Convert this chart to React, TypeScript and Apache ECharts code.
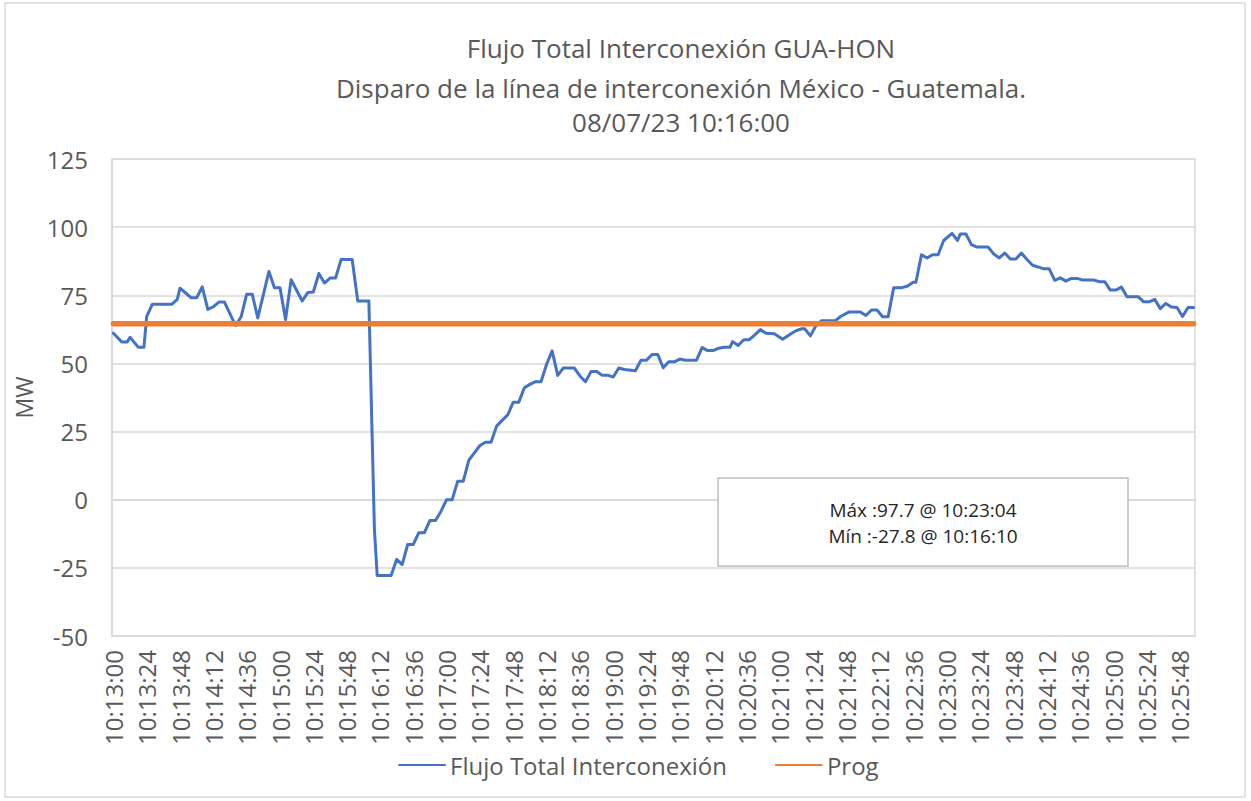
import React, { useEffect, useRef } from "react";
import * as echarts from "echarts";

const titleLines = [
  "Flujo Total Interconexión GUA-HON",
  "Disparo de la línea de interconexión México - Guatemala.",
  "08/07/23 10:16:00",
];

const seriesNames = ["Flujo Total Interconexión", "Prog"];
const yAxisName = "MW";
const yMin = -50;
const yMax = 125;
const yStep = 25;

// category axis: one category every 2 s, 10:13:00 .. 10:25:58
const startSeconds = 10 * 3600 + 13 * 60;
const categoryCount = 390;
const categoryStep = 2;
const labelEvery = 12;

const fmt = (s: number) => {
  const h = Math.floor(s / 3600);
  const m = Math.floor((s % 3600) / 60);
  const sec = s % 60;
  const p = (n: number) => String(n).padStart(2, "0");
  return `${p(h)}:${p(m)}:${p(sec)}`;
};
const categories: string[] = [];
for (let i = 0; i < categoryCount; i++) categories.push(fmt(startSeconds + i * categoryStep));

// Flujo Total Interconexión: vertices
const flowTimes = [
  "10:13:00", "10:13:06", "10:13:10", "10:13:12", "10:13:18", "10:13:22", "10:13:24", "10:13:28",
  "10:13:42", "10:13:46", "10:13:48", "10:13:56", "10:14:00", "10:14:04", "10:14:08", "10:14:12",
  "10:14:16", "10:14:20", "10:14:28", "10:14:32", "10:14:36", "10:14:40", "10:14:44", "10:14:52",
  "10:14:56", "10:15:00", "10:15:04", "10:15:08", "10:15:16", "10:15:20", "10:15:24", "10:15:28",
  "10:15:32", "10:15:36", "10:15:40", "10:15:44", "10:15:52", "10:15:56", "10:16:04", "10:16:08",
  "10:16:10", "10:16:20", "10:16:24", "10:16:28", "10:16:32", "10:16:36", "10:16:40", "10:16:44",
  "10:16:48", "10:16:52", "10:16:56", "10:17:00", "10:17:04", "10:17:08", "10:17:12", "10:17:16",
  "10:17:20", "10:17:24", "10:17:28", "10:17:32", "10:17:36", "10:17:40", "10:17:44", "10:17:48",
  "10:17:52", "10:17:56", "10:18:00", "10:18:04", "10:18:08", "10:18:12", "10:18:16", "10:18:20",
  "10:18:24", "10:18:32", "10:18:36", "10:18:40", "10:18:44", "10:18:48", "10:18:52", "10:18:56",
  "10:19:00", "10:19:04", "10:19:08", "10:19:16", "10:19:20", "10:19:24", "10:19:28", "10:19:32",
  "10:19:36", "10:19:40", "10:19:44", "10:19:48", "10:19:52", "10:20:00", "10:20:04", "10:20:08",
  "10:20:12", "10:20:16", "10:20:20", "10:20:24", "10:20:26", "10:20:30", "10:20:34", "10:20:38",
  "10:20:42", "10:20:46", "10:20:50", "10:20:56", "10:21:02", "10:21:08", "10:21:12", "10:21:16",
  "10:21:18", "10:21:22", "10:21:26", "10:21:30", "10:21:40", "10:21:44", "10:21:50", "10:21:58",
  "10:22:02", "10:22:06", "10:22:10", "10:22:14", "10:22:18", "10:22:22", "10:22:28", "10:22:32",
  "10:22:36", "10:22:38", "10:22:42", "10:22:46", "10:22:50", "10:22:54", "10:22:58", "10:23:04",
  "10:23:08", "10:23:10", "10:23:14", "10:23:18", "10:23:22", "10:23:30", "10:23:34", "10:23:38",
  "10:23:42", "10:23:46", "10:23:50", "10:23:54", "10:23:58", "10:24:02", "10:24:06", "10:24:10",
  "10:24:14", "10:24:18", "10:24:22", "10:24:26", "10:24:30", "10:24:34", "10:24:38", "10:24:46",
  "10:24:50", "10:24:54", "10:24:58", "10:25:02", "10:25:06", "10:25:10", "10:25:18", "10:25:22",
  "10:25:26", "10:25:30", "10:25:34", "10:25:38", "10:25:42", "10:25:46", "10:25:50", "10:25:54",
  "10:25:58",
];
const flowValues = [
  61.1, 57.9, 57.9, 59.6, 55.9, 55.9, 67.3, 71.7,
  71.7, 73.5, 77.6, 74.1, 74.1, 78.1, 69.8, 70.8,
  72.5, 72.5, 63.9, 67.1, 75.4, 75.4, 66.7, 83.7,
  77.8, 77.8, 66.1, 80.7, 72.9, 76.0, 76.2, 83.0,
  79.5, 81.3, 81.3, 88.1, 88.1, 72.9, 72.9, -10.9,
  -27.8, -27.8, -21.9, -23.8, -16.4, -16.4, -12.1, -12.1,
  -7.6, -7.6, -4.2, 0.0, 0.0, 6.8, 6.8, 14.5,
  17.2, 19.9, 21.1, 21.1, 27.0, 29.1, 31.1, 35.8,
  35.8, 41.1, 42.3, 43.3, 43.3, 49.7, 54.6, 45.6,
  48.3, 48.3, 45.4, 43.3, 47.0, 47.0, 45.7, 45.7,
  45.0, 48.3, 47.8, 47.3, 51.2, 51.2, 53.3, 53.3,
  48.4, 50.6, 50.6, 51.6, 51.2, 51.2, 55.8, 54.7,
  54.7, 55.6, 55.9, 55.9, 58.0, 56.6, 58.7, 58.7,
  60.5, 62.4, 61.1, 60.9, 58.9, 60.9, 62.1, 62.7,
  62.7, 60.1, 63.9, 65.7, 65.7, 67.3, 68.9, 68.9,
  67.6, 69.6, 69.6, 67.1, 67.1, 77.8, 77.8, 78.4,
  79.8, 79.8, 89.9, 88.7, 89.9, 89.9, 95.1, 97.7,
  95.1, 97.5, 97.5, 93.6, 92.7, 92.7, 90.2, 88.7,
  90.5, 88.3, 88.3, 90.5, 88.1, 86.0, 85.4, 84.7,
  84.7, 80.5, 81.4, 80.2, 81.2, 81.2, 80.6, 80.6,
  80.0, 80.0, 76.9, 76.9, 78.0, 74.5, 74.5, 72.6,
  72.6, 73.5, 70.1, 72.0, 70.7, 70.5, 67.2, 70.5,
  70.5,
];

// Prog: constant scheduled value
const progValue = 64.6;

const FONT = "'Open Sans', 'Noto Sans', sans-serif";
const TEXT = "#595959";
const GRID = "#d9d9d9";

export default function App() {
  const ref = useRef<HTMLDivElement>(null);
  useEffect(() => {
    if (!ref.current) return;
    const chart = echarts.init(ref.current, undefined, { renderer: "svg" });

    const flowData = flowTimes.map((t, i) => [t, flowValues[i]]);
    const progData = categories.map(() => progValue);

    let maxI = 0;
    let minI = 0;
    flowValues.forEach((v, i) => {
      if (v > flowValues[maxI]) maxI = i;
      if (v < flowValues[minI]) minI = i;
    });
    const maxText = `Máx :${flowValues[maxI].toFixed(1)} @ ${flowTimes[maxI]}`;
    const minText = `Mín :${flowValues[minI].toFixed(1)} @ ${flowTimes[minI]}`;

    chart.setOption({
      animation: false,
      backgroundColor: "#ffffff",
      textStyle: { fontFamily: FONT },
      grid: {
        left: 112,
        right: 56,
        top: 159,
        bottom: 165,
        show: true,
        borderColor: GRID,
        borderWidth: 1.5,
        containLabel: false,
      },
      legend: {
        left: 393,
        top: 748,
        itemWidth: 46,
        itemHeight: 14,
        itemGap: 48,
        itemStyle: { opacity: 0 },
        textStyle: { fontFamily: FONT, fontSize: 24, color: TEXT },
        data: seriesNames,
      },
      xAxis: {
        type: "category",
        data: categories,
        boundaryGap: true,
        axisLine: { show: true, lineStyle: { color: GRID, width: 1.5 } },
        axisTick: { show: false },
        splitLine: { show: false },
        axisLabel: {
          interval: labelEvery - 1,
          rotate: 90,
          margin: 14,
          fontFamily: FONT,
          fontSize: 24,
          color: TEXT,
        },
      },
      yAxis: {
        type: "value",
        min: yMin,
        max: yMax,
        interval: yStep,
        name: yAxisName,
        nameLocation: "middle",
        nameRotate: 90,
        nameGap: 65,
        nameTextStyle: { fontFamily: FONT, fontSize: 23, color: TEXT },
        axisLine: { show: true, lineStyle: { color: GRID, width: 1.5 } },
        axisTick: { show: false },
        splitLine: { show: true, lineStyle: { color: GRID, width: 1.5 } },
        axisLabel: { margin: 24, fontFamily: FONT, fontSize: 24, color: TEXT },
      },
      series: [
        {
          name: seriesNames[0],
          type: "line",
          data: flowData,
          symbol: "none",
          lineStyle: { color: "#4472C4", width: 3, cap: "round", join: "round" },
          itemStyle: { color: "#4472C4" },
          z: 3,
        },
        {
          name: seriesNames[1],
          type: "line",
          data: progData,
          symbol: "none",
          lineStyle: { color: "#ED7D31", width: 5.5, cap: "round" },
          itemStyle: { color: "#ED7D31" },
          z: 4,
        },
      ],
      graphic: [
        {
          type: "rect",
          silent: true,
          shape: { x: 5, y: 3, width: 1240, height: 794 },
          style: { fill: "none", stroke: GRID, lineWidth: 1.5 },
          z: 0,
        },
        ...titleLines.map((t, i) => ({
          type: "text",
          x: 681,
          y: [48, 88, 122][i],
          style: {
            text: t,
            fontFamily: FONT,
            fontSize: 26,
            fill: TEXT,
            textAlign: "center",
            textVerticalAlign: "middle",
          },
          z: 10,
        })),
        {
          type: "rect",
          silent: true,
          shape: { x: 718, y: 478, width: 410, height: 88 },
          style: { fill: "#ffffff", stroke: "#bfbfbf", lineWidth: 1.5 },
          z: 10,
        },
        {
          type: "text",
          x: 923,
          y: 510,
          style: {
            text: maxText,
            fontFamily: FONT,
            fontSize: 19,
            fill: "#262626",
            textAlign: "center",
            textVerticalAlign: "middle",
          },
          z: 11,
        },
        {
          type: "text",
          x: 923,
          y: 536,
          style: {
            text: minText,
            fontFamily: FONT,
            fontSize: 19,
            fill: "#262626",
            textAlign: "center",
            textVerticalAlign: "middle",
          },
          z: 11,
        },
      ],
    });
    return () => chart.dispose();
  }, []);
  return (
    <div
      ref={ref}
      style={{ position: "fixed", left: 0, top: 0, width: 1251, height: 801, background: "#fff" }}
    />
  );
}
